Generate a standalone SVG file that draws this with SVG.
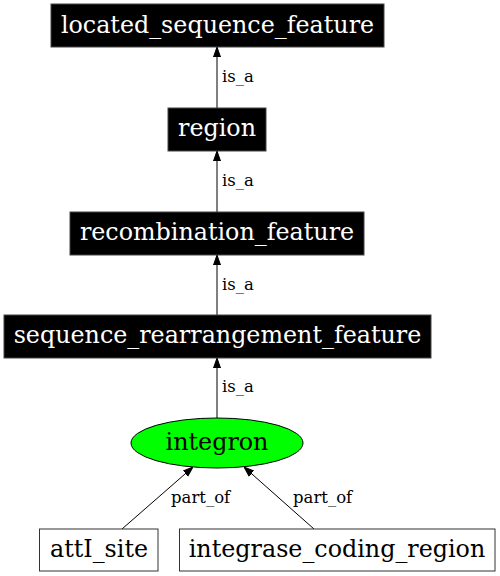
<svg xmlns="http://www.w3.org/2000/svg" width="500" height="576" viewBox="0 0 500 576">
<style>
.blk rect{fill:#000;stroke:#444;stroke-width:1}
.blk text{fill:#fff}
.wht rect{fill:#fff;stroke:#333;stroke-width:1}
text{font-family:"DejaVu Serif","Liberation Serif",serif}
.n{font-size:23.8px;text-anchor:middle}
.l{font-size:16.5px}
.e line{stroke:#000;stroke-width:1}
</style>
<defs>
<marker id="ah" markerWidth="10" markerHeight="10" refX="10" refY="5" orient="auto" markerUnits="userSpaceOnUse" viewBox="0 0 10 10">
<path d="M0,1.5 L10,5 L0,8.5 Z" fill="#000" stroke="#000"/>
</marker>
</defs>
<rect width="500" height="576" fill="#fff"/>
<g id="edges" class="e">
<line x1="217" y1="108" x2="217" y2="47" marker-end="url(#ah)"/>
<text class="l" x="222" y="82">is_a</text>
<line x1="217" y1="212" x2="217" y2="151" marker-end="url(#ah)"/>
<text class="l" x="222" y="186">is_a</text>
<line x1="217" y1="315" x2="217" y2="255" marker-end="url(#ah)"/>
<text class="l" x="222" y="290">is_a</text>
<line x1="217" y1="418" x2="217" y2="358" marker-end="url(#ah)"/>
<text class="l" x="222" y="392">is_a</text>
<line x1="122" y1="529" x2="193" y2="467" marker-end="url(#ah)"/>
<text class="l" x="171" y="503">part_of</text>
<line x1="314" y1="529" x2="244" y2="467" marker-end="url(#ah)"/>
<text class="l" x="293" y="503">part_of</text>
</g>
<g id="located_sequence_feature" class="blk">
<rect x="51" y="4" width="333" height="43"/>
<text class="n" x="217.5" y="33">located_sequence_feature</text>
</g>
<g id="region" class="blk">
<rect x="168" y="108" width="98" height="43"/>
<text class="n" x="217" y="136">region</text>
</g>
<g id="recombination_feature" class="blk">
<rect x="70" y="212" width="294" height="43"/>
<text class="n" x="217" y="240">recombination_feature</text>
</g>
<g id="sequence_rearrangement_feature" class="blk">
<rect x="4" y="315" width="427" height="43"/>
<text class="n" x="217.5" y="343">sequence_rearrangement_feature</text>
</g>
<g id="integron">
<ellipse cx="217" cy="443" rx="86" ry="25" fill="#00ff00" stroke="#000"/>
<text class="n" x="217" y="450">integron</text>
</g>
<g id="attI_site" class="wht">
<rect x="39.5" y="529" width="118.5" height="42"/>
<text class="n" x="99" y="557">attI_site</text>
</g>
<g id="integrase_coding_region" class="wht">
<rect x="179.5" y="529" width="315.5" height="42"/>
<text class="n" x="337" y="557">integrase_coding_region</text>
</g>
</svg>
